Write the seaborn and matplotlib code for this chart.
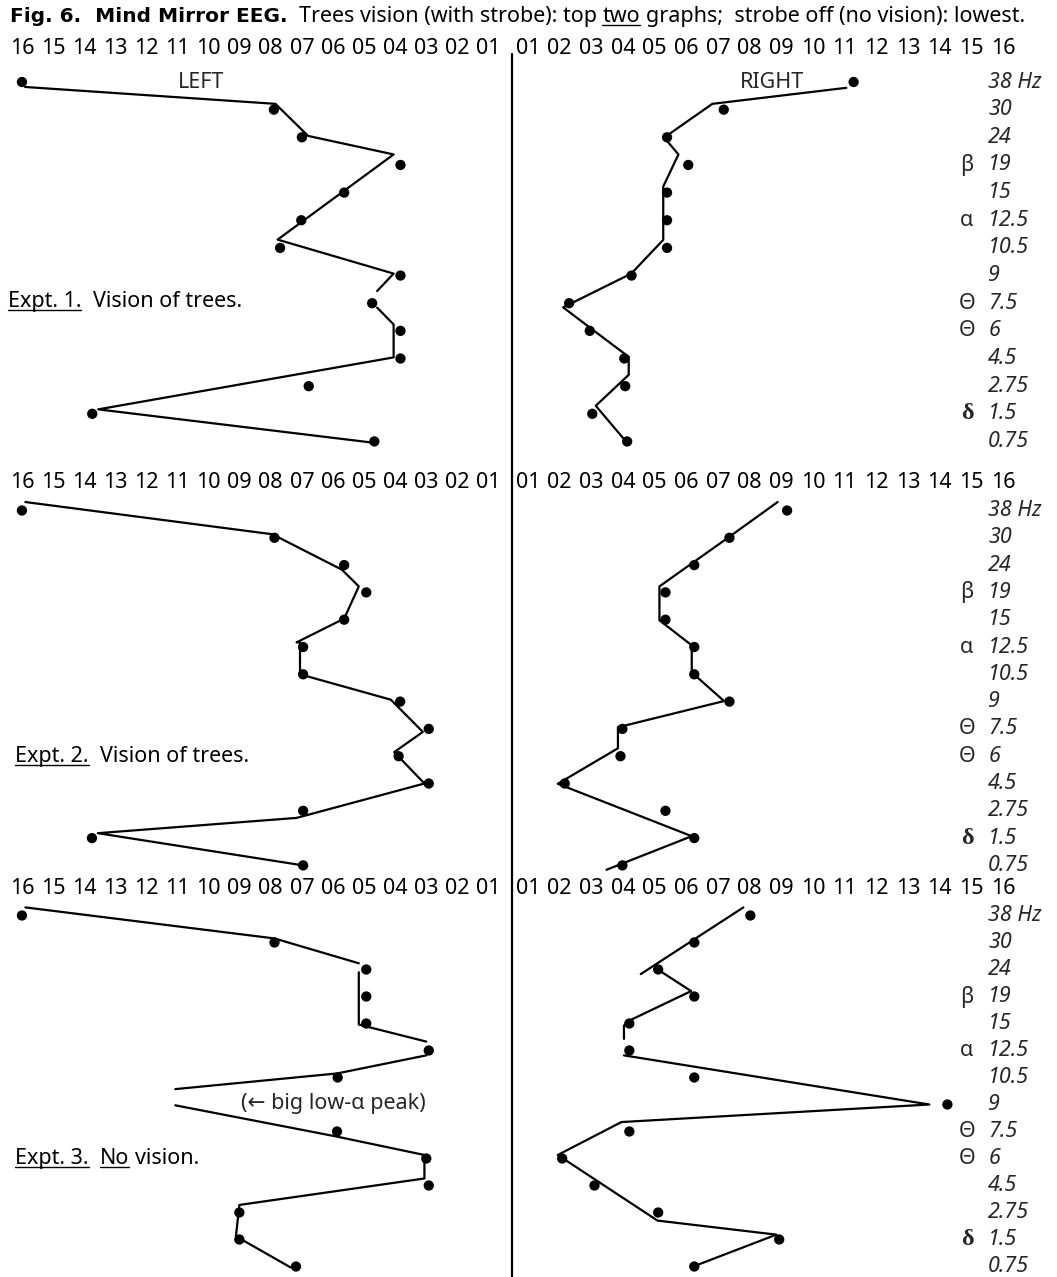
import numpy as np
import pandas as pd
import matplotlib
matplotlib.use("Agg")
import matplotlib.pyplot as plt
from matplotlib.lines import Line2D
import seaborn as sns

nan = np.nan

# frequency rows, top to bottom
freq_labels = ["38 Hz", "30", "24", "19", "15", "12.5", "10.5", "9",
               "7.5", "6", "4.5", "2.75", "1.5", "0.75"]
band_rows = [3, 5, 8, 9, 12]
band_marks = ["β", "α", "Θ", "Θ", "δ"]
scale_ticks = list(range(1, 17))
rows = np.arange(len(freq_labels))

# dots: amplitude (0-16 scale) per frequency row
exp1_left = [16, 7.9, 7.0, 3.83, 5.64, 7.02, 7.7, 3.83, 4.74, 3.83, 3.83, 6.78, 13.74, 4.67]
exp1_right = [11.28, 7.18, 5.39, 6.06, 5.39, 5.39, 5.39, 4.27, 2.30, 2.95, 4.04, 4.07, 3.03, 4.13]
exp2_left = [16, 7.88, 5.64, 4.93, 5.64, 6.96, 6.96, 3.84, 2.92, 3.89, 2.92, 6.96, 13.75, 6.96]
exp2_right = [9.18, 7.36, 6.25, 5.34, 5.34, 6.25, 6.25, 7.36, 3.98, 3.92, 2.16, 5.34, 6.25, 3.98]
exp3_left = [16, 7.88, 4.93, 4.93, 4.93, 2.92, 5.85, nan, 5.87, 3.0, 2.92, 9.01, 9.01, 7.19]
exp3_right = [8.02, 6.25, 5.11, 6.25, 4.2, 4.2, 6.25, 14.24, 4.2, 2.08, 3.10, 5.11, 8.93, 6.25]

# hand-drawn pen traces: amplitude / row vertices, nan = pen lifted
exp1_left_amp = [15.9, 7.85, 6.8, 4.05, 7.78, 4.05, 4.58, nan, 4.58, 4.05, 4.05, 13.55, 4.67]
exp1_left_row = [0.18, 0.79, 1.95, 2.62, 5.7, 6.93, 7.56, nan, 8.16, 8.77, 9.96, 11.84, 13.05]
exp1_right_amp = [11.05, 6.82, 5.30, 5.75, 5.27, 5.27, 4.26, 2.11, 2.95, 4.18, 4.18, 3.14, 4.13]
exp1_right_row = [0.21, 0.79, 2.01, 2.62, 3.78, 5.71, 6.93, 8.15, 8.88, 9.94, 10.59, 11.71, 13.05]
exp2_left_amp = [15.89, 7.95, 5.71, 5.17, 5.64, 7.17, 7.06, 7.06, 4.14, 3.11, 4.03, 3.06, 7.17, 13.56, 6.96]
exp2_left_row = [-0.31, 0.87, 2.17, 2.78, 3.96, 4.83, 4.83, 6.0, 6.93, 8.11, 8.85, 10.0, 11.26, 11.82, 13.0]
exp2_right_amp = [8.88, 7.36, 5.15, 5.15, 6.17, 6.17, 7.19, 3.84, 3.84, 1.94, 6.17, 3.48]
exp2_right_row = [-0.31, 0.96, 2.78, 4.02, 4.94, 5.93, 6.98, 7.94, 8.71, 10.01, 11.93, 13.16]
exp3_left_amp = [15.89, 7.88, 5.17, nan, 5.17, 5.17, 3.0, nan, 3.0, 5.87, 11.07, nan,
                 11.07, 5.87, 3.06, 3.06, 9.01, 9.12, 7.37]
exp3_left_row = [-0.30, 0.85, 1.77, nan, 2.10, 4.04, 4.67, nan, 5.18, 5.85, 6.43, nan,
                 7.03, 8.19, 8.87, 9.74, 10.72, 11.88, 13.03]
exp3_right_amp = [7.80, 4.56, nan, 5.11, 6.15, 4.24, 4.03, 4.03, nan,
                  4.03, 13.67, 3.95, 1.94, 5.09, 8.84, 6.15]
exp3_right_row = [-0.30, 2.17, nan, 2.01, 2.80, 3.87, 4.08, 4.57, nan,
                  5.18, 7.0, 7.65, 8.87, 11.30, 11.82, 13.03]

W_PX, H_PX = 1057, 1277
FS = 15.5

sns.set_theme(style="white")
plt.rcParams['font.family'] = ['Noto Sans', 'DejaVu Sans']
plt.rcParams['axes.facecolor'] = 'none'

fig = plt.figure(figsize=(W_PX / 100, H_PX / 100), dpi=100)
renderer = fig.canvas.get_renderer()


def px_axes(x0, x1, y0, y1):
    return fig.add_axes([x0 / W_PX, 1 - y1 / H_PX, (x1 - x0) / W_PX, (y1 - y0) / H_PX])


def trace_frame(amp, row):
    amp = np.asarray(amp, float)
    row = np.asarray(row, float)
    seg = np.cumsum(np.isnan(amp))
    return pd.DataFrame({"amp": amp, "row": row, "seg": seg}).dropna()


def space_width(style):
    a = fig.text(0, 0, "n n", **style)
    b = fig.text(0, 0, "nn", **style)
    w = a.get_window_extent(renderer).width - b.get_window_extent(renderer).width
    a.remove()
    b.remove()
    return w


PLAIN = dict(fontsize=FS)
BOLD = dict(fontsize=14.5, fontweight='bold', family=['DejaVu Sans'])


def draw_runs(x, y, parts):
    # x, y in display pixels (baseline); parts = (text, style, underline)
    for s, style, under in parts:
        sw = space_width(style)
        word = s.strip(' ')
        if not word:
            x += len(s) * sw
            continue
        lead = len(s) - len(s.lstrip(' '))
        trail = len(s) - len(s.rstrip(' '))
        x += lead * sw
        t = fig.text(x / W_PX, y / H_PX, word, va='baseline', ha='left',
                     color='black', **style)
        bb = t.get_window_extent(renderer)
        if under:
            fig.add_artist(Line2D([bb.x0 / W_PX, bb.x1 / W_PX], [(y - 3) / H_PX] * 2,
                                  color='black', lw=1.0, transform=fig.transFigure))
        x = bb.x1 + trail * sw


panels = [
    dict(top=59, bottom=470, row0=82, sp=27.65, cap_x=16.45, cap_row=7.9,
         left=exp1_left, right=exp1_right,
         lt=(exp1_left_amp, exp1_left_row), rt=(exp1_right_amp, exp1_right_row),
         caption=[("Expt. 1.", PLAIN, True), ("  Vision of trees.", PLAIN, False)]),
    dict(top=493, bottom=876, row0=510.5, sp=27.3, cap_x=16.22, cap_row=8.95,
         left=exp2_left, right=exp2_right,
         lt=(exp2_left_amp, exp2_left_row), rt=(exp2_right_amp, exp2_right_row),
         caption=[("Expt. 2.", PLAIN, True), ("  Vision of trees.", PLAIN, False)]),
    dict(top=899, bottom=1277, row0=915.5, sp=27.0, cap_x=16.22, cap_row=8.95,
         left=exp3_left, right=exp3_right,
         lt=(exp3_left_amp, exp3_left_row), rt=(exp3_right_amp, exp3_right_row),
         caption=[("Expt. 3.", PLAIN, True), ("  ", PLAIN, False),
                  ("No", PLAIN, True), (" vision.", PLAIN, False)]),
]

CX = 511.5
for i, p in enumerate(panels):
    ylim = ((p['bottom'] - p['row0']) / p['sp'], (p['top'] - p['row0']) / p['sp'])
    ax_l = px_axes(0, CX, p['top'], p['bottom'])
    ax_r = px_axes(CX, W_PX, p['top'], p['bottom'])
    for ax, dots, tr, xlim in [(ax_l, p['left'], p['lt'], (16.706, 0.26)),
                               (ax_r, p['right'], p['rt'], (0.48, 17.70))]:
        sns.lineplot(data=trace_frame(*tr), x="amp", y="row", units="seg",
                     estimator=None, sort=False, color="black", linewidth=1.6,
                     ax=ax, legend=False)
        sns.scatterplot(x=dots, y=rows, color="black", s=55, edgecolor="none",
                        ax=ax, legend=False, clip_on=False)
        ax.set_xlim(*xlim)
        ax.set_ylim(*ylim)
        ax.set_xlabel("")
        ax.set_ylabel("")
        ax.set_yticks([])
        ax.set_xticks(scale_ticks)
        ax.set_xticklabels([f"{t:02d}" for t in scale_ticks])
        ax.xaxis.set_ticks_position('top')
        ax.tick_params(axis='x', length=0, pad=0, labelsize=FS, colors='black',
                       top=True, labeltop=True, bottom=False, labelbottom=False)
        for sp in ax.spines.values():
            sp.set_visible(False)

    # frequency labels on the right
    for r, lab in zip(rows, freq_labels):
        ax_r.text(15.53, r, lab, fontsize=FS, style='italic', va='center', ha='left')
    for r, m in zip(band_rows, band_marks):
        if m == "δ":
            ax_r.text(14.86, r, m, fontsize=FS + 2, fontweight='bold',
                      family=['Liberation Serif', 'DejaVu Serif'], va='center', ha='center')
        else:
            ax_r.text(14.86, r, m, fontsize=FS, va='center', ha='center')

    # experiment caption
    fig.canvas.draw()
    x0, y0 = ax_l.transData.transform((p['cap_x'], p['cap_row']))
    draw_runs(x0, y0 - 7, p['caption'])

    if i == 0:
        ax_l.text(10.24, 0, "LEFT", fontsize=FS, ha='center', va='center')
        ax_r.text(8.71, 0, "RIGHT", fontsize=FS, ha='center', va='center')
    if i == 2:
        ax_l.text(8.95, 6.98, "(← big low-α peak)", fontsize=FS, ha='left', va='center')

# centre divider
fig.add_artist(Line2D([CX / W_PX] * 2, [1 - 54 / H_PX, 0], color='black', lw=1.6,
                      transform=fig.transFigure))

# title line
draw_runs(10, H_PX - 22, [("Fig. 6.  Mind Mirror EEG.", BOLD, False),
                          ("  Trees vision (with strobe): top ", PLAIN, False),
                          ("two", PLAIN, True),
                          (" graphs;  strobe off (no vision): lowest.", PLAIN, False)])

fig.savefig("out.png", dpi=100, facecolor="white")
